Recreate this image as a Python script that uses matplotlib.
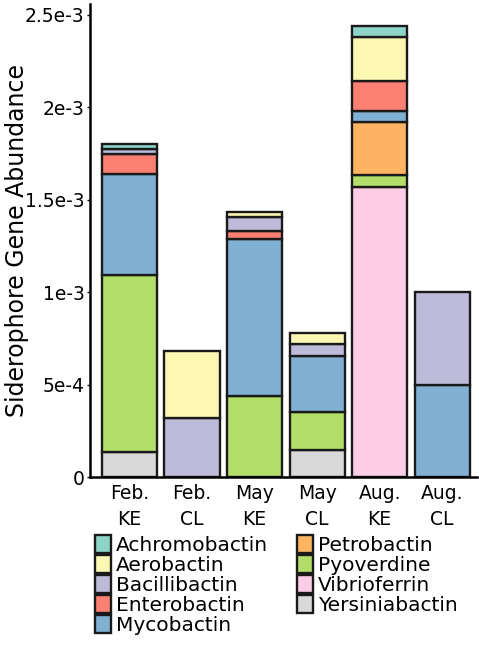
import matplotlib.pyplot as plt
from matplotlib.patches import Patch

# muestras
muestras = ["Feb.\nKE", "Feb.\nCL", "May\nKE", "May\nCL", "Aug.\nKE", "Aug.\nCL"]

# abundancia por sideroforo (x 1e-4), de abajo hacia arriba en la pila
yersiniabactin = [1.34, 0, 0, 1.46, 0, 0]
vibrioferrin = [0, 0, 0, 0, 15.71, 0]
pyoverdine = [9.57, 0, 4.38, 2.04, 0.63, 0]
petrobactin = [0, 0, 0, 0, 2.85, 0]
mycobactin = [5.47, 0, 8.50, 3.07, 0.63, 5.0]
enterobactin = [1.12, 0, 0.43, 0, 1.63, 0]
bacillibactin = [0.25, 3.18, 0.74, 0.61, 0, 5.0]
aerobactin = [0, 3.65, 0.31, 0.60, 2.36, 0]
achromobactin = [0.25, 0, 0, 0, 0.59, 0]

pila = [
    ("Yersiniabactin", yersiniabactin, "#D9D9D9"),
    ("Vibrioferrin", vibrioferrin, "#FCCDE5"),
    ("Pyoverdine", pyoverdine, "#B3DE69"),
    ("Petrobactin", petrobactin, "#FDB462"),
    ("Mycobactin", mycobactin, "#80B1D3"),
    ("Enterobactin", enterobactin, "#FB8072"),
    ("Bacillibactin", bacillibactin, "#BEBADA"),
    ("Aerobactin", aerobactin, "#FCF8B4"),
    ("Achromobactin", achromobactin, "#8DD3C7"),
]
colores = {nombre: color for nombre, _, color in pila}

plt.rcParams['font.family'] = ['DejaVu Sans']

fig = plt.figure(figsize=(4.79, 6.51), dpi=100)
ax = fig.add_axes([0.188, 0.267, 0.807, 0.727])

x = list(range(len(muestras)))
base = [0.0] * len(muestras)
for nombre, valores, color in pila:
    xs = [i for i in x if valores[i] > 0]
    alturas = [valores[i] * 1e-4 for i in xs]
    bases = [base[i] for i in xs]
    ax.bar(xs, alturas, bottom=bases, width=0.88, color=color,
           edgecolor="#1a1a1a", linewidth=1.7)
    base = [base[i] + valores[i] * 1e-4 for i in x]

ax.set_xlim(-0.63, 5.55)
ax.set_ylim(0, 2.56e-3)
ax.set_yticks([0, 5e-4, 1e-3, 1.5e-3, 2e-3, 2.5e-3])
ax.set_yticklabels(["0", "5e-4", "1e-3", "1.5e-3", "2e-3", "2.5e-3"])
ax.set_xticks(x)
ax.set_xticklabels(muestras, linespacing=1.45)
ax.tick_params(axis="y", labelsize=13.5, length=2, pad=2, width=1)
ax.tick_params(axis="x", labelsize=13.5, length=0, pad=5)
ax.set_ylabel("Siderophore Gene Abundance", fontsize=17, va="center")
ax.yaxis.set_label_coords(-0.19, 0.5)

for lado in ["top", "right"]:
    ax.spines[lado].set_visible(False)
ax.spines["left"].set_linewidth(1.8)
ax.spines["bottom"].set_linewidth(1.8)

# leyenda en dos columnas
col1 = ["Achromobactin", "Aerobactin", "Bacillibactin", "Enterobactin", "Mycobactin"]
col2 = ["Petrobactin", "Pyoverdine", "Vibrioferrin", "Yersiniabactin"]
estilo = dict(frameon=False, fontsize=14.5, handlelength=0.8, handleheight=1.0,
              handletextpad=0.25, labelspacing=0.0, borderpad=0, borderaxespad=0,
              loc="upper left")
for nombres, xpos in [(col1, 95 / 479), (col2, 296.5 / 479)]:
    handles = [Patch(facecolor=colores[n], edgecolor="#1a1a1a", linewidth=1.7) for n in nombres]
    leg = fig.legend(handles, nombres, bbox_to_anchor=(xpos, 1 - 535 / 651), **estilo)

plt.savefig("out.png", dpi=100)
